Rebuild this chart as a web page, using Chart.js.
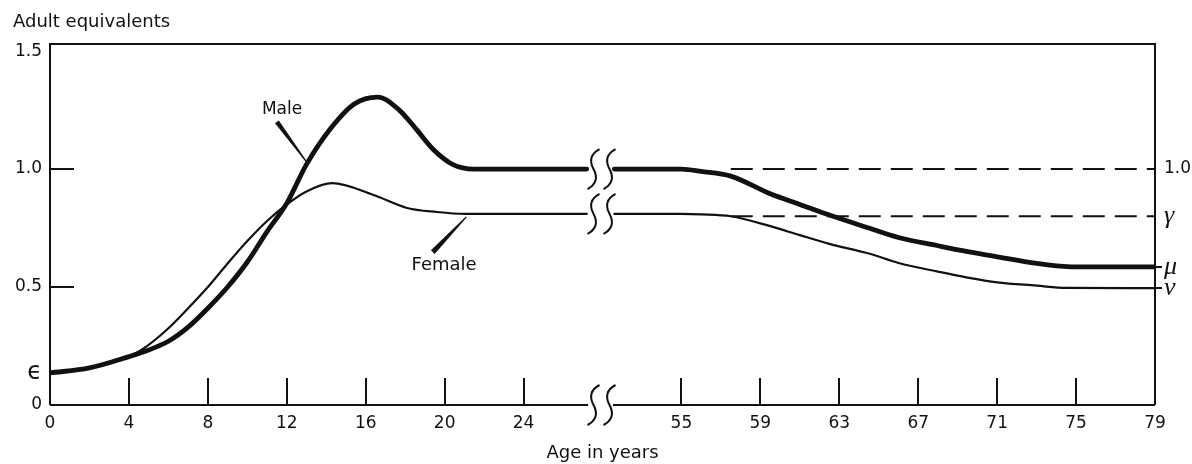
<!DOCTYPE html>
<html>
<head>
<meta charset="utf-8">
<script src="https://cdn.jsdelivr.net/npm/chart.js@4.4.1/dist/chart.umd.min.js"></script>
<style>
  html, body { margin: 0; padding: 0; background: #fff; }
</style>
</head>
<body>
<canvas id="chart" width="1192" height="464"></canvas>
<script>
// values (adult equivalents by age)
const maleYoungAges = [0, 2, 4, 5, 6, 7, 8, 9, 10, 11, 12, 13, 14.3, 15.4, 16.6, 17.7, 18.6, 19.4, 20.4, 21.5, 24];
const maleYoung = [0.136, 0.157, 0.205, 0.233, 0.27, 0.33, 0.41, 0.50, 0.606, 0.735, 0.855, 1.02, 1.18, 1.275, 1.305, 1.25, 1.165, 1.085, 1.02, 1.0, 1.0];
const femaleYoungAges = [0, 2, 4, 5, 6, 7, 8, 9, 10, 11, 12, 13, 14.3, 16.4, 18.1, 19.6, 21, 24];
const femaleYoung = [0.136, 0.157, 0.205, 0.255, 0.325, 0.41, 0.50, 0.60, 0.695, 0.78, 0.85, 0.905, 0.94, 0.89, 0.835, 0.818, 0.81, 0.81];

const maleOldAges = [55, 56, 57.5, 59.5, 61, 62.5, 64.5, 66, 68, 69.5, 71, 73, 74, 75.5, 79];
const maleOld = [1.0, 0.99, 0.97, 0.895, 0.85, 0.805, 0.75, 0.71, 0.675, 0.65, 0.628, 0.60, 0.59, 0.585, 0.585];
const femaleOldAges = [55, 56, 57.5, 59.5, 61, 62.5, 64.5, 66, 68, 69.5, 71, 73, 74.5, 79];
const femaleOld = [0.81, 0.808, 0.80, 0.758, 0.72, 0.683, 0.642, 0.602, 0.565, 0.54, 0.52, 0.506, 0.496, 0.495];

// dashed reference levels (1.0 and gamma) drawn from this age on
const dashLevels = [1.0, 0.8];
const dashFromAge = 57.5;

const xTickAges = [0, 4, 8, 12, 16, 20, 24, 55, 59, 63, 67, 71, 75, 79];
const xTickLabels = ['0', '4', '8', '12', '16', '20', '24', '55', '59', '63', '67', '71', '75', '79'];
const yTickValues = [0, 0.136, 0.5, 1.0, 1.5];
const yTickLabels = ['0', 'ϵ', '0.5', '1.0', '1.5'];
const rightTickValues = [1.0, 0.8, 0.585, 0.495];
const rightTickLabels = ['1.0', 'γ', 'μ', 'ν'];

// the axis skips ages 25-54: ages after the break are shifted left
const axisPos = age => (age <= 24 ? age : age - 23);
const breakAt = 27.9;   // axis units
const breakHalf = 0.7;

const INK = '#111';
const SANS = '"DejaVu Sans", sans-serif';
const SERIF_IT = { family: '"Liberation Serif", serif', size: 26, style: 'italic' };

function pts(ages, vals) {
  return ages.map((a, i) => ({ x: axisPos(a), y: vals[i] }));
}
// plateau lines run up to the break marks
function youngLine(ages, vals) {
  const p = pts(ages, vals);
  p.push({ x: breakAt - breakHalf, y: vals[vals.length - 1] });
  return p;
}
function oldLine(ages, vals) {
  return [{ x: breakAt + breakHalf, y: vals[0] }].concat(pts(ages, vals));
}

const curve = (data, w) => ({
  data: data,
  borderColor: INK,
  borderWidth: w,
  pointRadius: 0,
  fill: false,
  cubicInterpolationMode: 'monotone',
  borderCapStyle: 'round',
  borderJoinStyle: 'round'
});

const datasets = [
  curve(youngLine(maleYoungAges, maleYoung), 4.8),
  curve(oldLine(maleOldAges, maleOld), 4.8),
  curve(youngLine(femaleYoungAges, femaleYoung), 2.2),
  curve(oldLine(femaleOldAges, femaleOld), 2.2)
];
dashLevels.forEach(v => {
  datasets.push({
    data: [{ x: axisPos(dashFromAge), y: v }, { x: axisPos(79), y: v }],
    borderColor: INK,
    borderWidth: 2,
    borderDash: [22, 10],
    pointRadius: 0,
    fill: false
  });
});

function sBreak(ctx, x, y) {
  ctx.beginPath();
  ctx.moveTo(x + 6, y - 20);
  ctx.quadraticCurveTo(x - 7, y - 13, x, y);
  ctx.quadraticCurveTo(x + 7, y + 13, x - 6, y + 20);
  ctx.stroke();
}

function wedge(ctx, x1, y1, x2, y2, w1, w2) {
  const dx = x2 - x1, dy = y2 - y1;
  const len = Math.hypot(dx, dy);
  const nx = -dy / len, ny = dx / len;
  ctx.beginPath();
  ctx.moveTo(x1 + nx * w1, y1 + ny * w1);
  ctx.lineTo(x2 + nx * w2, y2 + ny * w2);
  ctx.lineTo(x2 - nx * w2, y2 - ny * w2);
  ctx.lineTo(x1 - nx * w1, y1 - ny * w1);
  ctx.closePath();
  ctx.fill();
}

const frame = {
  id: 'frame',
  afterDraw(chart) {
    const ctx = chart.ctx;
    const a = chart.chartArea;
    const x = chart.scales.x, y = chart.scales.y;
    ctx.save();
    ctx.strokeStyle = INK;
    ctx.fillStyle = INK;
    ctx.lineWidth = 2;
    ctx.lineCap = 'butt';

    // box, bottom axis broken at the gap
    const gl = x.getPixelForValue(breakAt - breakHalf * 0.9);
    const gr = x.getPixelForValue(breakAt + breakHalf * 0.9);
    ctx.beginPath();
    ctx.moveTo(a.left, a.bottom); ctx.lineTo(a.left, a.top);
    ctx.lineTo(a.right, a.top); ctx.lineTo(a.right, a.bottom);
    ctx.moveTo(a.left, a.bottom); ctx.lineTo(gl, a.bottom);
    ctx.moveTo(gr, a.bottom); ctx.lineTo(a.right, a.bottom);
    ctx.stroke();

    // inward ticks
    xTickAges.slice(1, -1).forEach(age => {
      const px = Math.round(x.getPixelForValue(axisPos(age)));
      ctx.beginPath();
      ctx.moveTo(px, a.bottom); ctx.lineTo(px, a.bottom - 27);
      ctx.stroke();
    });
    [0.5, 1.0].forEach(v => {
      const py = Math.round(y.getPixelForValue(v));
      ctx.beginPath();
      ctx.moveTo(a.left, py); ctx.lineTo(a.left + 24, py);
      ctx.stroke();
    });

    // break marks on the axis and on both plateaus
    const bx1 = x.getPixelForValue(breakAt) - 7;
    const bx2 = x.getPixelForValue(breakAt) + 9;
    const levels = [0, maleYoung[maleYoung.length - 1], femaleYoung[femaleYoung.length - 1]];
    levels.forEach(v => {
      const py = y.getPixelForValue(v);
      sBreak(ctx, bx1, py);
      sBreak(ctx, bx2, py);
    });

    // texts
    ctx.textBaseline = 'middle';
    ctx.textAlign = 'left';
    ctx.font = '18px ' + SANS;
    ctx.fillText('Adult equivalents', 13, 22);

    ctx.textAlign = 'center';
    ctx.font = '17px ' + SANS;
    ctx.fillText('Male', x.getPixelForValue(11.76), y.getPixelForValue(1.25));
    ctx.font = '18px ' + SANS;
    ctx.fillText('Female', x.getPixelForValue(19.97), y.getPixelForValue(0.593));

    wedge(ctx, x.getPixelForValue(11.5), y.getPixelForValue(1.20),
      x.getPixelForValue(13.0), y.getPixelForValue(1.03), 2.4, 0.6);
    wedge(ctx, x.getPixelForValue(19.4), y.getPixelForValue(0.648),
      x.getPixelForValue(21.1), y.getPixelForValue(0.797), 2.6, 0.6);
    ctx.restore();
  }
};

new Chart(document.getElementById('chart'), {
  type: 'line',
  data: { datasets: datasets },
  options: {
    responsive: false,
    animation: false,
    devicePixelRatio: 1,
    layout: { padding: { top: 44, left: 0, right: 0, bottom: 0 } },
    plugins: { legend: { display: false }, tooltip: { enabled: false } },
    scales: {
      x: {
        type: 'linear',
        min: 0,
        max: axisPos(79),
        grid: { display: false, drawTicks: false },
        border: { display: false },
        afterBuildTicks: ax => { ax.ticks = xTickAges.map(a => ({ value: axisPos(a) })); },
        afterFit: ax => { ax.height = 59; },
        ticks: {
          autoSkip: false,
          maxRotation: 0,
          padding: 8,
          color: INK,
          font: { family: SANS, size: 17 },
          callback: (v, i) => xTickLabels[i]
        },
        title: {
          display: true,
          text: 'Age in years',
          color: INK,
          font: { family: SANS, size: 18 },
          padding: { top: 0, bottom: 0 }
        }
      },
      y: {
        type: 'linear',
        min: 0,
        max: 1.53,
        grid: { display: false, drawTicks: false },
        border: { display: false },
        afterBuildTicks: ax => { ax.ticks = yTickValues.map(v => ({ value: v })); },
        afterFit: ax => { ax.width = 50; },
        ticks: {
          padding: 8,
          color: INK,
          font: c => (c.index === 1
            ? { family: SANS, size: 24 }
            : { family: SANS, size: 17 }),
          callback: (v, i) => yTickLabels[i]
        }
      },
      y2: {
        type: 'linear',
        position: 'right',
        min: 0,
        max: 1.53,
        border: { display: false },
        grid: {
          display: true,
          drawOnChartArea: false,
          drawTicks: true,
          tickLength: 7,
          lineWidth: 2,
          color: c => (c.index >= 2 ? INK : 'rgba(0,0,0,0)')
        },
        afterBuildTicks: ax => { ax.ticks = rightTickValues.map(v => ({ value: v })); },
        afterFit: ax => { ax.width = 37; },
        ticks: {
          padding: 2,
          color: INK,
          font: c => (c.index === 0 ? { family: SANS, size: 17 } : SERIF_IT),
          callback: (v, i) => rightTickLabels[i]
        }
      }
    }
  },
  plugins: [frame]
});
</script>
</body>
</html>
